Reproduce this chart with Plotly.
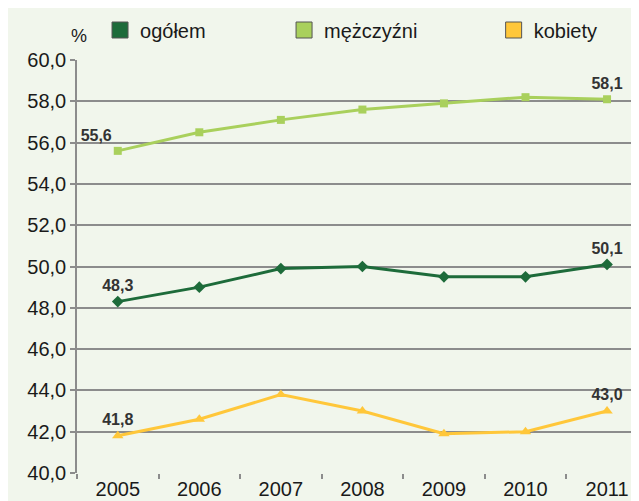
import plotly.graph_objects as go

years = ["2005", "2006", "2007", "2008", "2009", "2010", "2011"]
ogolem = [48.3, 49.0, 49.9, 50.0, 49.5, 49.5, 50.1]
mezczyzni = [55.6, 56.5, 57.1, 57.6, 57.9, 58.2, 58.1]
kobiety = [41.8, 42.6, 43.8, 43.0, 41.9, 42.0, 43.0]

series = [
    ("ogółem", ogolem, "#1d6b3a", "diamond", 9, "legend", "top center"),
    ("mężczyźni", mezczyzni, "#a9d05c", "square", 8, "legend2", "top left"),
    ("kobiety", kobiety, "#ffc73a", "triangle-up", 10, "legend3", "top center"),
]

bg = "#f1f6ec"
grid = "#8c8c8c"


def end_labels(vals):
    # only the first and last points carry a value label
    return [f"{v:.1f}".replace(".", ",") if i in (0, len(vals) - 1) else ""
            for i, v in enumerate(vals)]


fig = go.Figure()

for name, vals, color, symbol, size, leg, pos_first in series:
    positions = [pos_first] + ["top center"] * (len(vals) - 1)
    fig.add_trace(go.Scatter(
        x=years, y=vals, mode="lines+markers+text",
        line=dict(color=color, width=3),
        marker=dict(symbol=symbol, size=size, color=color),
        text=end_labels(vals), textposition=positions,
        textfont=dict(family="Liberation Sans", size=16, color="#333333",
                      weight="bold"),
        showlegend=False, cliponaxis=False,
    ))
    # square swatch for the legend
    fig.add_trace(go.Scatter(
        x=[None], y=[None], mode="markers", name=name, legend=leg,
        marker=dict(symbol="square", size=16, color=color,
                    line=dict(color="#555555", width=1)),
    ))

leg_font = dict(family="Liberation Sans", size=20, color="#1a1a1a")
legend_common = dict(font=leg_font, bgcolor="rgba(0,0,0,0)", yanchor="top",
                     xanchor="left", yref="container", y=0.995,
                     xref="container", itemwidth=30, orientation="h")

fig.update_layout(
    width=639, height=501,
    margin=dict(l=69, r=0, t=52, b=36),
    paper_bgcolor=bg, plot_bgcolor=bg,
    separators=",.",
    font=dict(family="Liberation Sans", size=20, color="#1a1a1a"),
    legend=dict(x=0.144, **legend_common),
    legend2=dict(x=0.432, **legend_common),
    legend3=dict(x=0.76, **legend_common),
    xaxis=dict(
        type="category", range=[-0.5, 6.49], automargin=False,
        tickson="boundaries", ticks="outside", ticklen=5,
        tickcolor=grid, tickwidth=1.5, ticklabelstandoff=2,
        showgrid=False, showline=False, zeroline=False,
        tickfont=dict(size=20),
    ),
    yaxis=dict(
        range=[40, 60], dtick=2, tickformat=".1f", automargin=False,
        ticks="outside", ticklen=5, tickcolor=grid, tickwidth=1.5,
        showgrid=True, gridcolor=grid, gridwidth=1.5,
        showline=True, linecolor=grid, linewidth=1.5,
        zeroline=False, tickfont=dict(size=20),
    ),
    annotations=[dict(
        text="%", xref="paper", yref="paper", x=0.004, y=1.03,
        xanchor="center", yanchor="bottom", showarrow=False,
        font=dict(size=18),
    )],
)

fig.write_html("out.html")
